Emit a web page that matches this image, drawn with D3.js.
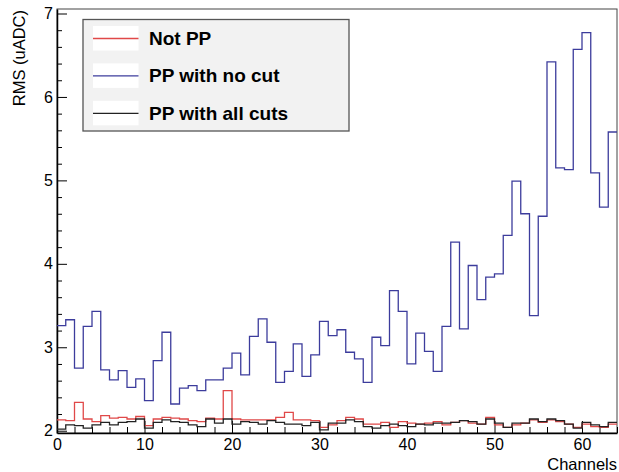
<!DOCTYPE html>
<meta charset="utf-8">
<style>
body { margin: 0; background: #fff; }
text { font-family: "Liberation Sans", Arial, sans-serif; }
.axis path, .axis line { stroke: #000; }
</style>
<body>
<script src="https://d3js.org/d3.v7.min.js"></script>
<script>
// RMS per channel
var notPP = [2.13, 2.12, 2.34, 2.14, 2.11, 2.18, 2.15, 2.16, 2.14, 2.17,
             2.06, 2.14, 2.16, 2.15, 2.14, 2.12, 2.11, 2.15, 2.14, 2.48,
             2.14, 2.13, 2.13, 2.13, 2.13, 2.16, 2.22, 2.13, 2.13, 2.12,
             2.04, 2.07, 2.12, 2.16, 2.14, 2.08, 2.08, 2.10, 2.04, 2.11,
             2.09, 2.08, 2.09, 2.11, 2.07, 2.10, 2.12, 2.09, 2.08, 2.16,
             2.07, 2.04, 2.07, 2.09, 2.13, 2.10, 2.13, 2.11, 2.08, 2.04,
             2.08, 2.05, 2.04, 2.08];
var ppNoCut = [3.26, 3.33, 2.75, 3.25, 3.43, 2.73, 2.61, 2.72, 2.52, 2.62,
               2.36, 2.84, 3.18, 2.32, 2.51, 2.54, 2.48, 2.61, 2.61, 2.75,
               2.93, 2.67, 3.13, 3.34, 3.06, 2.58, 2.71, 3.04, 2.65, 2.91,
               3.31, 3.14, 3.21, 2.94, 2.86, 2.58, 3.12, 3.02, 3.68, 3.43,
               2.80, 3.17, 2.95, 2.71, 3.25, 4.26, 3.22, 3.98, 3.57, 3.84,
               3.88, 4.34, 4.99, 4.60, 3.38, 4.57, 6.42, 5.15, 5.13, 6.57,
               6.77, 5.09, 4.68, 5.58];
var ppAllCuts = [2.02, 2.07, 2.06, 2.03, 2.07, 2.10, 2.07, 2.10, 2.11, 2.14,
                 2.03, 2.10, 2.13, 2.11, 2.10, 2.07, 2.05, 2.14, 2.09, 2.14,
                 2.08, 2.11, 2.10, 2.08, 2.12, 2.10, 2.08, 2.08, 2.06, 2.10,
                 2.01, 2.09, 2.09, 2.13, 2.11, 2.05, 2.03, 2.06, 2.08, 2.06,
                 2.05, 2.08, 2.07, 2.09, 2.09, 2.10, 2.12, 2.11, 2.08, 2.14,
                 2.09, 2.04, 2.09, 2.09, 2.14, 2.11, 2.14, 2.12, 2.08, 2.03,
                 2.10, 2.07, 2.05, 2.10];
var seriesNames = ["Not PP", "PP with no cut", "PP with all cuts"];
var xTicks = [0, 10, 20, 30, 40, 50, 60];
var yTicks = [2, 3, 4, 5, 6, 7];

var W = 619, H = 472;
var margin = {top: 9, right: 2, bottom: 39, left: 57},
    width = W - margin.left - margin.right,
    height = H - margin.top - margin.bottom;

var x = d3.scaleLinear().domain([0, 64]).range([0, width]);
var y = d3.scaleLinear().domain([1.9725, 7.054]).range([height, 0]);

var svg = d3.select("body").append("svg")
    .attr("width", W)
    .attr("height", H);
var g = svg.append("g")
    .attr("transform", "translate(" + margin.left + "," + margin.top + ")");

// frame
g.append("rect")
    .attr("width", width)
    .attr("height", height)
    .attr("fill", "none")
    .attr("stroke", "#444")
    .attr("stroke-width", 1);

// minor ticks
var xMinor = d3.range(0, 65, 2).filter(function(d) { return d % 10 != 0; });
var yMinor = d3.range(2, 7.01, 0.2).filter(function(d) { return Math.abs(d - Math.round(d)) > 0.01; });

g.append("g")
    .attr("class", "axis")
    .attr("transform", "translate(0," + height + ")")
    .call(d3.axisTop(x).tickValues(xMinor).tickSize(6).tickFormat(""))
    .select(".domain").remove();
g.append("g")
    .attr("class", "axis")
    .call(d3.axisRight(y).tickValues(yMinor).tickSize(5).tickFormat(""))
    .select(".domain").remove();

// major ticks + labels
var xAxis = g.append("g")
    .attr("class", "axis")
    .attr("transform", "translate(0," + height + ")")
    .call(d3.axisBottom(x).tickValues(xTicks).tickSize(0).tickPadding(0).tickFormat(d3.format("d")));
xAxis.selectAll("text").attr("y", 17).attr("dy", 0).style("font-size", "16px").attr("fill", "#000");
xAxis.select(".domain").attr("stroke-width", 1.5);
g.append("g")
    .attr("class", "axis")
    .attr("transform", "translate(0," + height + ")")
    .call(d3.axisTop(x).tickValues(xTicks).tickSize(12).tickFormat(""))
    .select(".domain").remove();

var yAxis = g.append("g")
    .attr("class", "axis")
    .call(d3.axisLeft(y).tickValues(yTicks).tickSize(0).tickPadding(4).tickFormat(d3.format("d")));
yAxis.selectAll("text").style("font-size", "16px").attr("fill", "#000");
yAxis.select(".domain").attr("stroke-width", 1.5);
g.append("g")
    .attr("class", "axis")
    .call(d3.axisRight(y).tickValues(yTicks).tickSize(10).tickFormat(""))
    .select(".domain").remove();

// histograms
var step = d3.line()
    .x(function(d) { return x(d[0]); })
    .y(function(d) { return y(d[1]); })
    .curve(d3.curveStepAfter);
function bins(vals) {
  var pts = vals.map(function(v, i) { return [i, v]; });
  pts.push([vals.length, vals[vals.length - 1]]);
  return pts;
}
var hists = [
  {vals: notPP, color: "#e04848"},
  {vals: ppNoCut, color: "#3c3c9c"},
  {vals: ppAllCuts, color: "#222"}
];
g.selectAll(".hist")
    .data(hists)
  .enter().append("path")
    .attr("class", "hist")
    .attr("d", function(d) { return step(bins(d.vals)); })
    .attr("fill", "none")
    .attr("stroke", function(d) { return d.color; })
    .attr("stroke-width", 1.3);

// legend
var legend = svg.append("g").attr("transform", "translate(83,19.5)");
legend.append("rect")
    .attr("width", 266)
    .attr("height", 111.5)
    .attr("fill", "#f2f2f2")
    .attr("stroke", "#555")
    .attr("stroke-width", 1.3);
var entry = legend.selectAll(".entry")
    .data(seriesNames)
  .enter().append("g")
    .attr("class", "entry")
    .attr("transform", function(d, i) { return "translate(0," + (i * 37.4) + ")"; });
entry.append("rect")
    .attr("x", 10).attr("y", 6.5)
    .attr("width", 45.5).attr("height", 24.5)
    .attr("fill", "#fff");
entry.append("line")
    .attr("x1", 10).attr("x2", 55.5)
    .attr("y1", 19).attr("y2", 19)
    .attr("stroke", function(d, i) { return hists[i].color; })
    .attr("stroke-width", 1.3);
entry.append("text")
    .attr("x", 66)
    .attr("y", 25.5)
    .style("font-size", "19px")
    .style("font-weight", "bold")
    .text(function(d) { return d; });

// axis titles
svg.append("text")
    .attr("x", 617)
    .attr("y", 470)
    .attr("text-anchor", "end")
    .style("font-size", "16.5px")
    .text("Channels");
svg.append("text")
    .attr("transform", "translate(25,10) rotate(-90)")
    .attr("text-anchor", "end")
    .style("font-size", "16.5px")
    .text("RMS (uADC)");
</script>
</body>
